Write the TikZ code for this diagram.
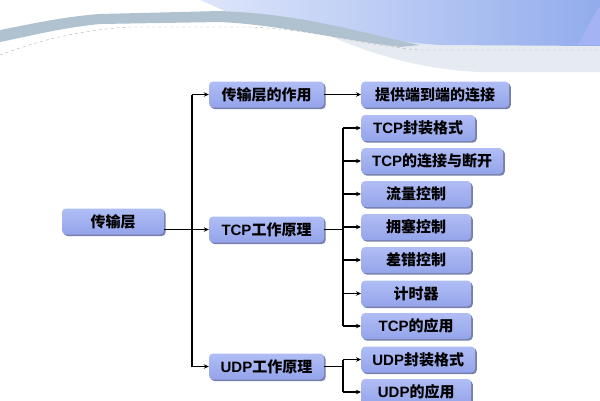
\documentclass[tikz,border=0pt]{standalone}
\usepackage{fontspec}
\newfontfamily\cjk{Noto Sans CJK SC}
\newfontfamily\lat{Liberation Sans}
\newcommand{\zh}[1]{{\cjk\bfseries #1}}
\newcommand{\en}[1]{{\lat\bfseries #1}}
\usetikzlibrary{arrows.meta,shadows}
\definecolor{boxtop}{RGB}{176,189,245}
\definecolor{boxbot}{RGB}{148,164,234}
\definecolor{shadowc}{RGB}{118,128,170}
\definecolor{bandgray}{RGB}{176,194,208}
\definecolor{bandblueL}{RGB}{222,230,250}
\definecolor{bandblueR}{RGB}{146,172,236}
\definecolor{palestrip}{RGB}{230,235,241}
\tikzset{
  box/.style={rounded corners=4pt, top color=boxtop, bottom color=boxbot,
    minimum height=26pt, inner sep=0pt, font=\fontsize{15}{15}\selectfont,
    drop shadow={shadow xshift=1.6pt, shadow yshift=-1.6pt, fill=shadowc, opacity=1}},
  conn/.style={line width=1.2pt, black},
  arr/.style={conn, -{Stealth[length=5pt,width=4.5pt]}}
}
\begin{document}
\begin{tikzpicture}[x=1pt,y=-1pt]
\clip (0,0) rectangle (600,400);
\fill[white] (0,0) rectangle (600,400);
% banner
\fill[palestrip] (330,36) .. controls (380,58) and (430,70) .. (480,72) -- (600,72) -- (600,44) -- (440,44) -- cycle;
\shade[left color=bandblueL, right color=bandblueR] (200,0) -- (600,0) -- (600,46) -- (440,45) .. controls (360,40) and (300,18) .. (225,11) -- cycle;
\fill[bandgray] (0,30) .. controls (40,22) and (70,16) .. (100,14) -- (220,11) .. controls (300,14) and (350,30) .. (420,45) -- (400,47) .. controls (330,38) and (280,25) .. (220,22) -- (100,24) .. controls (60,28) and (30,36) .. (0,42) -- cycle;
\fill[bandblueR!85!blue!70] (578,45) -- (598,8) -- (600,8) -- (600,45) -- cycle;
\draw[gray!60, dashed, line width=0.4pt] (0,55) .. controls (40,40) and (80,30) .. (130,27) -- (250,27) .. controls (320,30) and (360,45) .. (420,50) -- (600,50);
% nodes
\node[box, minimum width=102pt] (main) at (113,221.5) {\zh{传输层}};
\node[box, minimum width=115pt] (role) at (266.5,94.5) {\zh{传输层的作用}};
\node[box, minimum width=115pt] (tcp) at (266.5,229.5) {\en{TCP}\zh{工作原理}};
\node[box, minimum width=115pt] (udp) at (266.5,366.5) {\en{UDP}\zh{工作原理}};
\node[box, anchor=west, minimum width=148pt] (e2e) at (361,94.5) {\zh{提供端到端的连接}};
\node[box, anchor=west, minimum width=114pt] (t1) at (361,128) {\en{TCP}\zh{封装格式}};
\node[box, anchor=west, minimum width=142pt] (t2) at (361,161) {\en{TCP}\zh{的连接与断开}};
\node[box, anchor=west, minimum width=110pt] (t3) at (361,194) {\zh{流量控制}};
\node[box, anchor=west, minimum width=110pt] (t4) at (361,227) {\zh{拥塞控制}};
\node[box, anchor=west, minimum width=110pt] (t5) at (361,260) {\zh{差错控制}};
\node[box, anchor=west, minimum width=110pt] (t6) at (361,293.5) {\zh{计时器}};
\node[box, anchor=west, minimum width=110pt] (t7) at (361,326) {\en{TCP}\zh{的应用}};
\node[box, anchor=west, minimum width=114pt] (u1) at (361,359.5) {\en{UDP}\zh{封装格式}};
\node[box, anchor=west, minimum width=110pt] (u2) at (361,392) {\en{UDP}\zh{的应用}};
% connectors
\coordinate (k1) at (192,0);
\coordinate (k2) at (343,0);
\draw[conn] (k1 |- role.west) -- (k1 |- udp.west);
\draw[arr] (k1 |- role.west) -- (role.west);
\draw[arr] (k1 |- udp.west) -- (udp.west);
\draw[arr] (main.east |- tcp.west) -- (tcp.west);
\draw[arr] (role.east) -- (e2e.west);
\draw[conn] (tcp.east) -- (k2 |- tcp.east);
\draw[conn] (k2 |- t1.west) -- (k2 |- t7.west);
\foreach \n in {t1,t2,t3,t4,t5,t6,t7} \draw[arr] (k2 |- \n.west) -- (\n.west);
\draw[conn] (udp.east) -- (k2 |- udp.east);
\draw[conn] (k2 |- u1.west) -- (k2 |- u2.west);
\foreach \n in {u1,u2} \draw[arr] (k2 |- \n.west) -- (\n.west);
\end{tikzpicture}
\end{document}
